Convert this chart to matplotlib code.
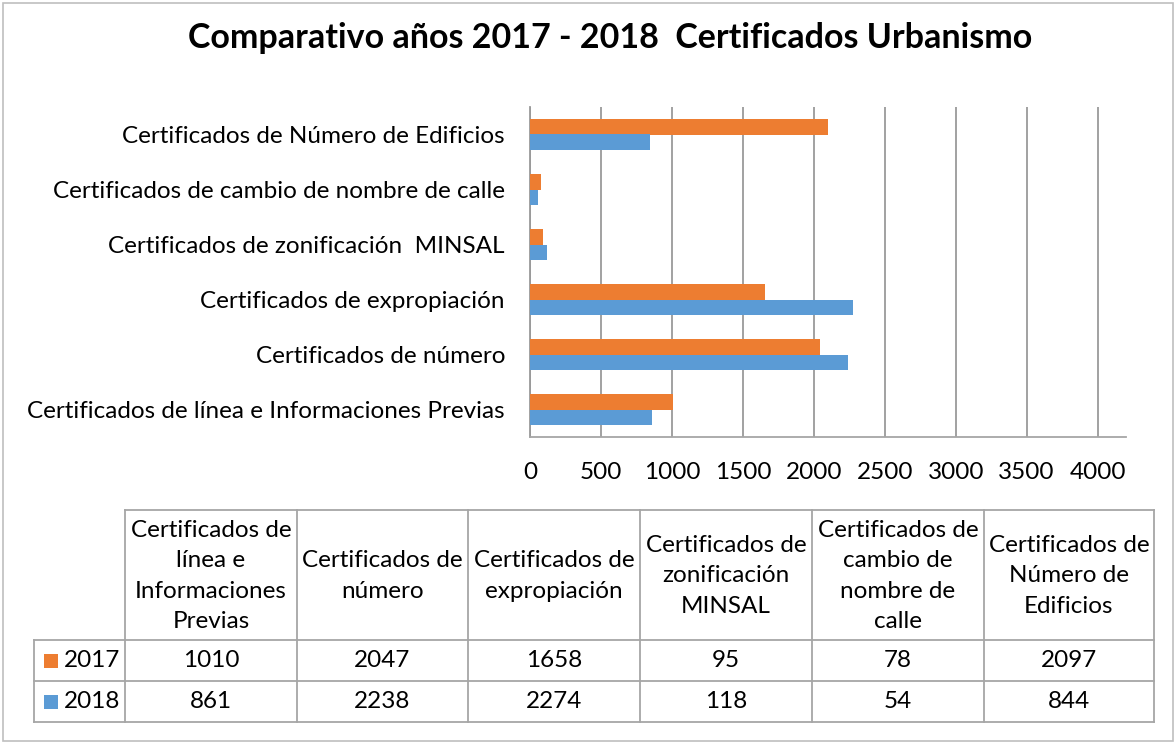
import matplotlib.pyplot as plt
from matplotlib.patches import Rectangle
from matplotlib.lines import Line2D

plt.rcParams['font.family'] = ['Lato', 'DejaVu Sans']

categories = [
    "Certificados de línea e Informaciones Previas",
    "Certificados de número",
    "Certificados de expropiación",
    "Certificados de zonificación  MINSAL",
    "Certificados de cambio de nombre de calle",
    "Certificados de Número de Edificios",
]
table_headers = [
    "Certificados de\nlínea e\nInformaciones\nPrevias",
    "Certificados de\nnúmero",
    "Certificados de\nexpropiación",
    "Certificados de\nzonificación\nMINSAL",
    "Certificados de\ncambio de\nnombre de\ncalle",
    "Certificados de\nNúmero de\nEdificios",
]
series_names = ["2017", "2018"]
values_2017 = [1010, 2047, 1658, 95, 78, 2097]
values_2018 = [861, 2238, 2274, 118, 54, 844]
x_ticks = [0, 500, 1000, 1500, 2000, 2500, 3000, 3500, 4000]

orange = "#ED7D31"
blue = "#5B9BD5"
grid_c = "#9a9a9a"
line_c = "#a6a6a6"
fs = 17.5

W, H = 1176, 744
fig = plt.figure(figsize=(W / 100, H / 100), dpi=100)

def fx(px):
    return px / W

def fy(py):
    return 1 - py / H

# outer frame
fig.patches.append(Rectangle((fx(3), fy(741)), fx(1170), 738 / H, transform=fig.transFigure,
                             fill=False, edgecolor="#bfbfbf", linewidth=1.2))

fig.text(fx(610), fy(38), "Comparativo años 2017 - 2018  Certificados Urbanismo",
         ha="center", va="center", fontsize=24.5, fontweight="bold")

ax = fig.add_axes([fx(530), fy(437), fx(1126) - fx(530), (437 - 107) / H])
y = list(range(len(categories)))
h = 0.29
ax.barh([i + h / 2 for i in y], values_2017, height=h, color=orange, zorder=3)
ax.barh([i - h / 2 for i in y], values_2018, height=h, color=blue, zorder=3)
ax.set_xlim(0, 4200)
ax.set_ylim(-0.5, len(categories) - 0.5)
ax.set_xticks(x_ticks)
ax.set_yticks(y)
ax.set_yticklabels(categories)
ax.tick_params(axis="both", length=0, labelsize=fs)
ax.tick_params(axis="x", pad=18)
ax.tick_params(axis="y", pad=18)
ax.grid(axis="x", color=grid_c, linewidth=1.3, zorder=0)
for s in ["top", "right"]:
    ax.spines[s].set_visible(False)
ax.spines["left"].set_color(grid_c)
ax.spines["left"].set_linewidth(1.3)
ax.spines["bottom"].set_color(line_c)
ax.spines["bottom"].set_linewidth(1.3)

# data table
col_edges = [125, 297, 468, 640, 812, 984, 1154]
row_edges = [510, 640, 681, 722]
label_left = 34

def hline(x0, x1, yy):
    fig.lines.append(Line2D([fx(x0), fx(x1)], [fy(yy), fy(yy)], transform=fig.transFigure,
                            color=line_c, linewidth=1.3))

def vline(xx, y0, y1):
    fig.lines.append(Line2D([fx(xx), fx(xx)], [fy(y0), fy(y1)], transform=fig.transFigure,
                            color=line_c, linewidth=1.3))

hline(col_edges[0], col_edges[-1], row_edges[0])
for r in row_edges[1:]:
    hline(label_left, col_edges[-1], r)
for c in col_edges:
    vline(c, row_edges[0], row_edges[-1])
vline(label_left, row_edges[1], row_edges[-1])

for i, head in enumerate(table_headers):
    cx = (col_edges[i] + col_edges[i + 1]) / 2
    fig.text(fx(cx), fy((row_edges[0] + row_edges[1]) / 2 + 1), head, ha="center", va="center",
             fontsize=fs, linespacing=1.55)

for r, (name, vals, col) in enumerate(zip(series_names, [values_2017, values_2018], [orange, blue])):
    cy = (row_edges[r + 1] + row_edges[r + 2]) / 2
    fig.patches.append(Rectangle((fx(44), fy(cy + 7)), fx(14), 14 / H, transform=fig.transFigure,
                                 facecolor=col, edgecolor="none"))
    fig.text(fx(64), fy(cy), name, ha="left", va="center", fontsize=fs)
    for i, v in enumerate(vals):
        cx = (col_edges[i] + col_edges[i + 1]) / 2
        fig.text(fx(cx), fy(cy), str(v), ha="center", va="center", fontsize=fs)

fig.savefig("out.png", dpi=100)
